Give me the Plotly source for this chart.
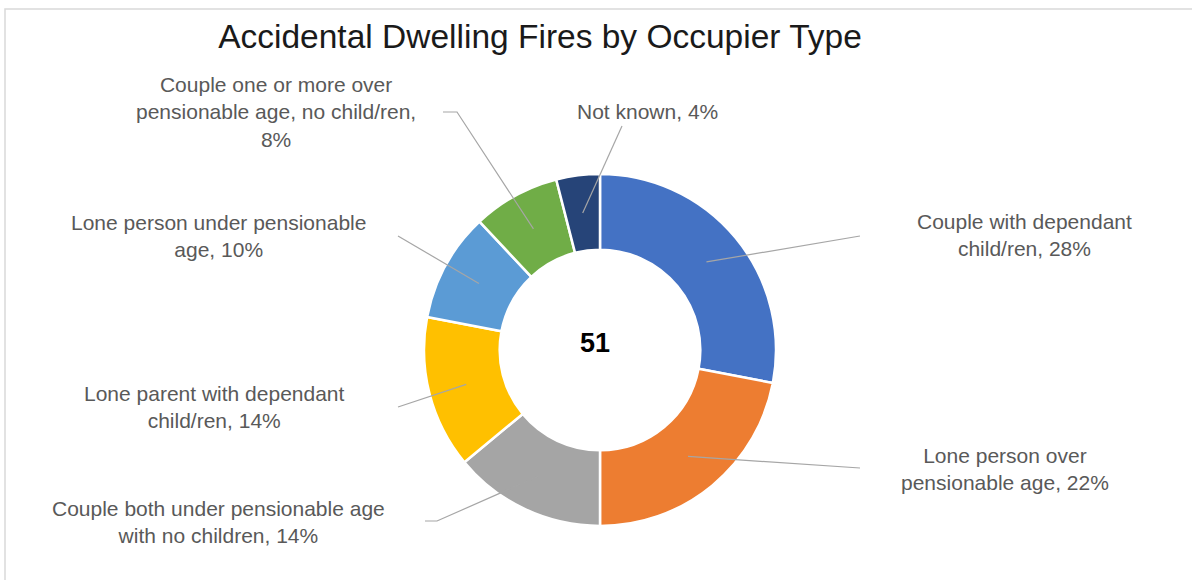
import math
import plotly.graph_objects as go

# Occupier types, clockwise from 12 o'clock
categories = [
    "Couple with dependant child/ren",
    "Lone person over pensionable age",
    "Couple both under pensionable age with no children",
    "Lone parent with dependant child/ren",
    "Lone person under pensionable age",
    "Couple one or more over pensionable age, no child/ren",
    "Not known",
]
fires = [14, 11, 7, 7, 5, 4, 2]
centre_total = 51
colors = ["#4472C4", "#ED7D31", "#A5A5A5", "#FFC000", "#5B9BD5", "#70AD47", "#264478"]

# how each category name wraps in the data label
wrapped_names = [
    "Couple with dependant<br>child/ren",
    "Lone person over<br>pensionable age",
    "Couple both under pensionable age<br>with no children",
    "Lone parent with dependant<br>child/ren",
    "Lone person under pensionable<br>age",
    "Couple one or more over<br>pensionable age, no child/ren,<br>",
    "Not known",
]

W, H = 1192, 580
CX, CY, R = 600, 350, 176   # donut centre / outer radius in pixels
HOLE = 0.57

# label centres, leader line end points and short horizontal elbows (pixels)
label_pos = [(1024, 235), (1005, 469), (218, 522), (214, 407), (218, 236), (276, 112), (647, 112)]
leader_end = [(860, 236), (860, 468), (425, 521), (398, 407), (398, 236), (443, 112), (622, 126)]
elbow = [0, 0, 12, 0, 0, 14, 0]


def px(x, y):
    return x / W, 1 - y / H


fig = go.Figure(go.Pie(
    labels=categories,
    values=fires,
    hole=HOLE,
    sort=False,
    direction="clockwise",
    rotation=0,
    marker=dict(colors=colors, line=dict(color="white", width=2.5)),
    textinfo="none",
    hoverinfo="label+value+percent",
    domain=dict(x=[(CX - R) / W, (CX + R) / W], y=[1 - (CY + R) / H, 1 - (CY - R) / H]),
    showlegend=False,
))

total = sum(fires)
shapes = []
annotations = []
cum = 0
for i, v in enumerate(fires):
    mid = (cum + v / 2) / total * 2 * math.pi
    cum += v
    r_mid = R * (1 + HOLE) / 2
    sx = CX + r_mid * math.sin(mid)
    sy = CY - r_mid * math.cos(mid)
    ex, ey = leader_end[i]
    pts = [px(ex, ey), px(ex + elbow[i], ey), px(sx, sy)]
    path = "M " + " L ".join(f"{x:.5f},{y:.5f}" for x, y in pts)
    shapes.append(dict(type="path", xref="paper", yref="paper", path=path,
                       line=dict(color="#A6A6A6", width=1.2)))
    pct = round(100 * v / total)
    sep = "" if wrapped_names[i].endswith("<br>") else ", "
    lx, ly = px(*label_pos[i])
    annotations.append(dict(
        x=lx, y=ly, xref="paper", yref="paper", showarrow=False,
        xanchor="center", yanchor="middle",
        text=f"{wrapped_names[i]}{sep}{pct}%", align="center",
        font=dict(family="Liberation Sans, Arial", size=21, color="#595959"),
    ))

# total in the middle of the ring
mx, my = px(595, 343)
annotations.append(dict(x=mx, y=my, xref="paper", yref="paper", showarrow=False,
                        xanchor="center", yanchor="middle",
                        text=f"<b>{centre_total}</b>",
                        font=dict(family="Liberation Sans, Arial", size=27, color="#000000")))

# chart area frame
shapes.append(dict(type="rect", xref="paper", yref="paper", x0=5 / W, y0=-0.05, x1=1.05, y1=1 - 9 / H,
                   line=dict(color="#D9D9D9", width=1.5)))

fig.update_layout(
    width=W, height=H,
    margin=dict(l=0, r=0, t=0, b=0),
    paper_bgcolor="white",
    title=dict(text="Accidental Dwelling Fires by Occupier Type", x=540 / W, xanchor="center",
               y=1 - 36 / H, yanchor="middle",
               font=dict(family="Liberation Sans, Arial", size=33.5, color="#1a1a1a")),
    shapes=shapes,
    annotations=annotations,
)

fig.write_html("out.html", config={"displayModeBar": False},
               post_script="document.body.style.margin='0';")
